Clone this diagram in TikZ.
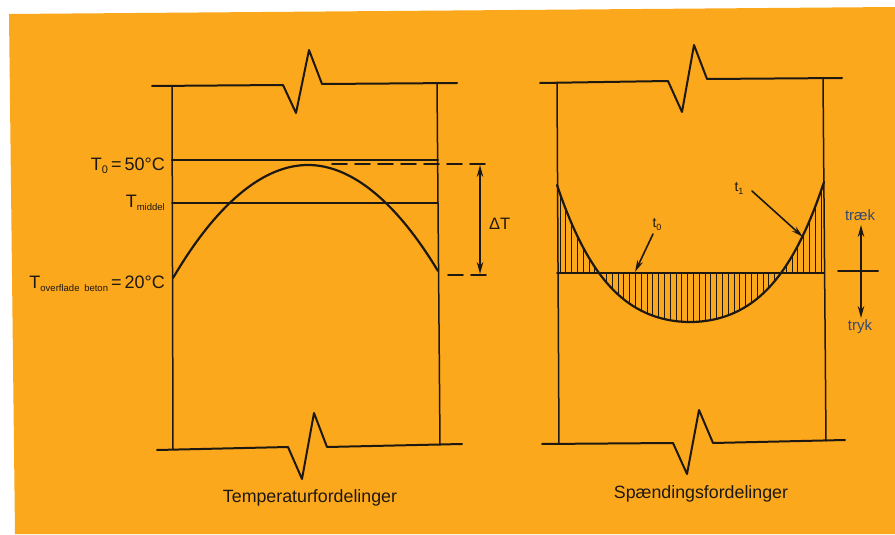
\documentclass[tikz,border=0pt]{standalone}
\usepackage{fontspec}
\setmainfont{Liberation Sans}
\usetikzlibrary{arrows.meta}
\definecolor{bgorange}{RGB}{252,168,28}
\definecolor{ink}{RGB}{30,24,18}
\definecolor{slate}{RGB}{52,72,112}
\newcommand\lowtxt[2][9.5]{\raisebox{-3pt}{\fontsize{#1}{#1}\selectfont #2}}
\begin{document}
\begin{tikzpicture}[x=1pt,y=-1pt,line join=round,line cap=round,
  ln/.style={draw=ink,line width=2pt},
  thin ln/.style={draw=ink,line width=1.5pt},
  curve/.style={draw=ink,line width=2.2pt},
  hatch/.style={draw=ink,line width=1pt},
  dim/.style={draw=ink,line width=1.6pt,{Stealth[length=12pt,width=6.5pt]}-{Stealth[length=12pt,width=6.5pt]}},
  ptr/.style={draw=ink,line width=1.6pt,-{Stealth[length=12pt,width=6pt]}},
  dsh/.style={draw=ink,line width=1.8pt,dash pattern=on 15pt off 8pt},
  lbl/.style={text=ink,inner sep=0pt,font=\fontsize{18}{20}\selectfont},
  captxt/.style={text=ink,inner sep=0pt,font=\fontsize{17.8}{20}\selectfont},
  smalltxt/.style={text=ink,inner sep=0pt,font=\fontsize{14}{16}\selectfont},
  bluetxt/.style={text=slate,inner sep=0pt,font=\fontsize{15}{17}\selectfont},
  declare function={sf(\x)=322-(43.08*((\x-690)/100)^2+19.43*((\x-690)/100)^4);}]
\useasboundingbox (0,0) rectangle (895,535);
\fill[white] (0,0) rectangle (895,535);
\fill[bgorange] (9,14) -- (895,7) -- (895,534) -- (15,534) -- cycle;

% ---------- left diagram ----------
\draw[ln] (152,86) -- (283,85) -- (296,113) -- (309,50) -- (322,84) -- (457,83);
\draw[ln] (157,450) -- (288,447) -- (302,479) -- (314,413) -- (327,447) -- (462,444);
\draw[thin ln] (172,86) -- (173,449);
\draw[thin ln] (437,83) -- (440,445);

\draw[ln,line width=2.4pt] (172,160) -- (438,160);
\draw[thin ln,line width=1.8pt] (172,203) -- (438,203);
\draw[dsh] (332,164) -- (490,164);
\draw[dsh] (448,275) -- (490,275);
\draw[curve] (173,278) parabola bend (308,165) (438,271);

\coordinate (dtTop) at (480,165);
\coordinate (dtBot) at (480,274);
\draw[dim] (dtTop) -- (dtBot);
\node[lbl,font=\fontsize{16.5}{18}\selectfont,anchor=base west] (dT) at (489,229) {ΔT};

\node[lbl,anchor=base east] (t0lab) at (165,170) {T\lowtxt[11]{0}\,=\,50°C};
\node[lbl,anchor=base east] (tmlab) at (165,207) {T\lowtxt{middel}};
\node[lbl,anchor=base east] (tolab) at (165,288) {T\lowtxt{overflade\enspace beton}\,=\,20°C};

\node[captxt,anchor=base] (capL) at (310,502) {Temperaturfordelinger};

% ---------- right diagram ----------
\draw[ln] (540,83) -- (668,81) -- (682,112) -- (694,45) -- (707,79) -- (842,78);
\draw[ln] (542,444) -- (673,443) -- (687,474) -- (699,410) -- (713,443) -- (845,440);
\draw[thin ln] (557,83) -- (559,444);
\draw[thin ln] (823,78) -- (826,441);

\foreach \xx in {560,565.8,...,822} {
  \draw[hatch] (\xx,273) -- (\xx,{sf(\xx)});
}
\draw[curve] plot[domain=557:824,samples=80,smooth] (\x,{sf(\x)});
\draw[ln] (557,273) -- (824,273);

\coordinate (t0from) at (653,234);
\coordinate (t0to) at (635,272);
\draw[ptr] (t0from) -- (t0to);
\node[smalltxt,anchor=base] (t0) at (657,227) {t\lowtxt[9]{0}};
\coordinate (t1from) at (752,191);
\coordinate (t1to) at (803,237);
\draw[ptr] (t1from) -- (t1to);
\node[smalltxt,anchor=base] (t1) at (739,191) {t\lowtxt[9]{1}};

\draw[ln] (838,271) -- (878,271);
\coordinate (trUp) at (861,225);
\coordinate (trDn) at (861,318);
\draw[dim] (trUp) -- (trDn);
\node[bluetxt,anchor=base] (traek) at (860,220) {træk};
\node[bluetxt,anchor=base] (tryk) at (860,330) {tryk};

\node[captxt,anchor=base] (capR) at (701,498) {Spændingsfordelinger};
\end{tikzpicture}
\end{document}
